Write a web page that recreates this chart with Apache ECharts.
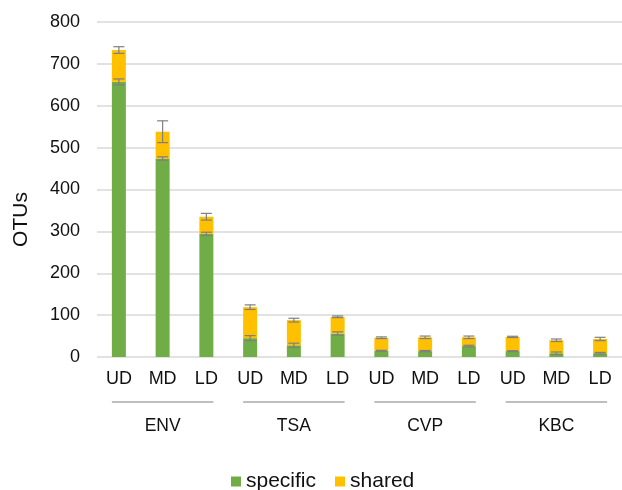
<!DOCTYPE html>
<html>
<head>
<meta charset="utf-8">
<script src="https://cdn.jsdelivr.net/npm/echarts@6/dist/echarts.min.js"></script>
<style>
  html, body { margin: 0; padding: 0; background: #fff; }
  #chart { width: 622px; height: 490px; }
</style>
</head>
<body>
<div id="chart"></div>
<script>
// 分类与数据（从图上读出来的估计值）
const depths = ["UD", "MD", "LD", "UD", "MD", "LD", "UD", "MD", "LD", "UD", "MD", "LD"];
const groups = ["ENV", "TSA", "CVP", "KBC"];
const specific = [657, 474, 294, 45, 28, 56, 15, 14, 26, 14, 9, 9];
const shared = [76, 64, 41, 74, 60, 40, 31, 33, 21, 34, 31, 34];
const specificErr = [7, 4, 4, 6, 5, 4, 1, 1.5, 2, 1, 3, 2];
const totalErr = [8, 26, 8, 5.5, 4.5, 2, 2, 3, 3, 1.5, 3, 4];
const yTicks = [0, 100, 200, 300, 400, 500, 600, 700, 800];

const font = "Liberation Sans, Arial, sans-serif";
let myChart = echarts.init(document.getElementById("chart"));

// 误差线数据: [类别, 中心值, 误差]
const errData = [];
for (let i = 0; i < depths.length; i++) {
  errData.push([i, specific[i], specificErr[i]]);
  errData.push([i, specific[i] + shared[i], totalErr[i]]);
}

function renderErr(params, api) {
  const x = api.value(0);
  const c = api.value(1);
  const e = api.value(2);
  const top = api.coord([x, c + e]);
  const bot = api.coord([x, c - e]);
  const hw = 5.5;
  const style = { stroke: "#7f7f7f", lineWidth: 1.2 };
  return {
    type: "group",
    children: [
      { type: "line", shape: { x1: top[0], y1: top[1], x2: bot[0], y2: bot[1] }, style: style },
      { type: "line", shape: { x1: top[0] - hw, y1: top[1], x2: top[0] + hw, y2: top[1] }, style: style },
      { type: "line", shape: { x1: bot[0] - hw, y1: bot[1], x2: bot[0] + hw, y2: bot[1] }, style: style },
    ],
  };
}

let option = {
  animation: false,
  textStyle: { fontFamily: font },
  grid: { left: 97, top: 22, width: 534, bottom: 133 },
  legend: {
    data: ["specific", "shared"],
    top: 471,
    left: 231,
    padding: 0,
    icon: "rect",
    itemWidth: 10,
    itemHeight: 10,
    itemGap: 19,
    textStyle: { fontSize: 21, color: "#111", fontFamily: font },
  },
  xAxis: [
    {
      type: "category",
      data: depths,
      axisLine: { show: false },
      axisTick: { show: false },
      axisLabel: { fontSize: 18, color: "#111", margin: 13, interval: 0, fontFamily: font },
    },
    {
      type: "category",
      data: groups,
      position: "bottom",
      offset: 47,
      axisLine: { show: false },
      axisTick: { show: false },
      axisLabel: { fontSize: 17.5, color: "#111", margin: 13, interval: 0, fontFamily: font },
    },
  ],
  yAxis: {
    type: "value",
    min: yTicks[0],
    max: yTicks[yTicks.length - 1],
    interval: 100,
    name: "OTUs",
    nameLocation: "middle",
    nameGap: 65,
    nameRotate: 90,
    nameTextStyle: { fontSize: 21, color: "#111", padding: [0, 60, 0, 0], fontFamily: font },
    axisLine: { show: false },
    axisTick: { show: false },
    axisLabel: { fontSize: 18, color: "#111", margin: 17, fontFamily: font },
    splitLine: { lineStyle: { color: "#d9d9d9", width: 1.5 } },
  },
  series: [
    {
      name: "specific",
      type: "bar",
      stack: "otu",
      barWidth: 14,
      itemStyle: { color: "#70AD47" },
      data: specific,
    },
    {
      name: "shared",
      type: "bar",
      stack: "otu",
      barWidth: 14,
      itemStyle: { color: "#FFC000" },
      data: shared,
    },
    {
      name: "err",
      type: "custom",
      renderItem: renderErr,
      encode: { x: 0, y: 1 },
      data: errData,
      z: 10,
      silent: true,
    },
  ],
};

myChart.setOption(option);

// 分组下划线
const lines = [];
const yBase = myChart.convertToPixel({ yAxisIndex: 0 }, 0) + 45;
for (let g = 0; g < groups.length; g++) {
  const x1 = myChart.convertToPixel({ xAxisIndex: 0 }, g * 3) - 7;
  const x2 = myChart.convertToPixel({ xAxisIndex: 0 }, g * 3 + 2) + 7;
  lines.push({
    type: "line",
    shape: { x1: x1, y1: yBase, x2: x2, y2: yBase },
    style: { stroke: "#bfbfbf", lineWidth: 2 },
  });
}
myChart.setOption({ graphic: lines });
</script>
</body>
</html>
